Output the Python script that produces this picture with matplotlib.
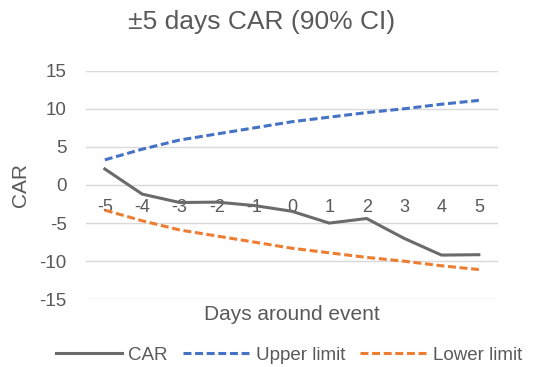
import matplotlib.pyplot as plt
import numpy as np

plt.rcParams['font.family'] = ['Liberation Sans', 'DejaVu Sans']
plt.rcParams['axes.unicode_minus'] = False

# Data
days = ['-5', '-4', '-3', '-2', '-1', '0', '1', '2', '3', '4', '5']
car = [2.1, -1.2, -2.3, -2.25, -2.7, -3.45, -5.0, -4.4, -7.0, -9.2, -9.15]
upper = [3.3, 4.7, 5.9, 6.7, 7.5, 8.3, 8.9, 9.5, 10.0, 10.6, 11.1]
lower = [-3.3, -4.7, -5.9, -6.7, -7.5, -8.3, -8.9, -9.5, -10.0, -10.6, -11.1]

txt = '#595959'

fig = plt.figure(figsize=(5.35, 3.67), dpi=100)
ax = fig.add_axes([0.161, 0.1845, 0.769, 0.6229])

x = np.arange(len(days))
ax.plot(x, car, color='#6B6B6B', lw=2.2, label='CAR')
ax.plot(x, upper, color='#4472C4', lw=2.2, ls=(0, (2.6, 1.2)), label='Upper limit')
ax.plot(x, lower, color='#ED7D31', lw=2.2, ls=(0, (2.6, 1.2)), label='Lower limit')

ax.set_xlim(-0.5, len(days) - 0.5)
ax.set_ylim(-15, 15)
ax.set_yticks([-15, -10, -5, 0, 5, 10, 15])
ax.set_xticks(x)
ax.set_xticklabels(days)
ax.grid(axis='y', color='#D9D9D9', lw=1)
ax.set_axisbelow(True)

for s in ['top', 'right', 'left']:
    ax.spines[s].set_visible(False)
ax.spines['bottom'].set_position(('data', 0))
ax.spines['bottom'].set_visible(False)

ax.tick_params(axis='x', length=0, pad=10, labelsize=13, labelcolor=txt)
ax.tick_params(axis='y', length=0, pad=14, labelsize=13.5, labelcolor=txt)

cx = 0.5 * (0.161 + 0.93)
fig.text(262 / 535, 1 - 22 / 367, '±5 days CAR (90% CI)', fontsize=19, color=txt,
         ha='center', va='center')
ax.set_ylabel('CAR', fontsize=15, color=txt, labelpad=7)
fig.text(cx, 1 - 315 / 367, 'Days around event', fontsize=15,
         color=txt, ha='center', va='center')

ax.legend(loc='center', bbox_to_anchor=(289 / 535, 1 - 355 / 367),
          bbox_transform=fig.transFigure, ncol=3, frameon=False, fontsize=13.5,
          labelcolor=txt, handlelength=3.57, handletextpad=0.32, columnspacing=0.8)

fig.savefig('out.png', dpi=100)
